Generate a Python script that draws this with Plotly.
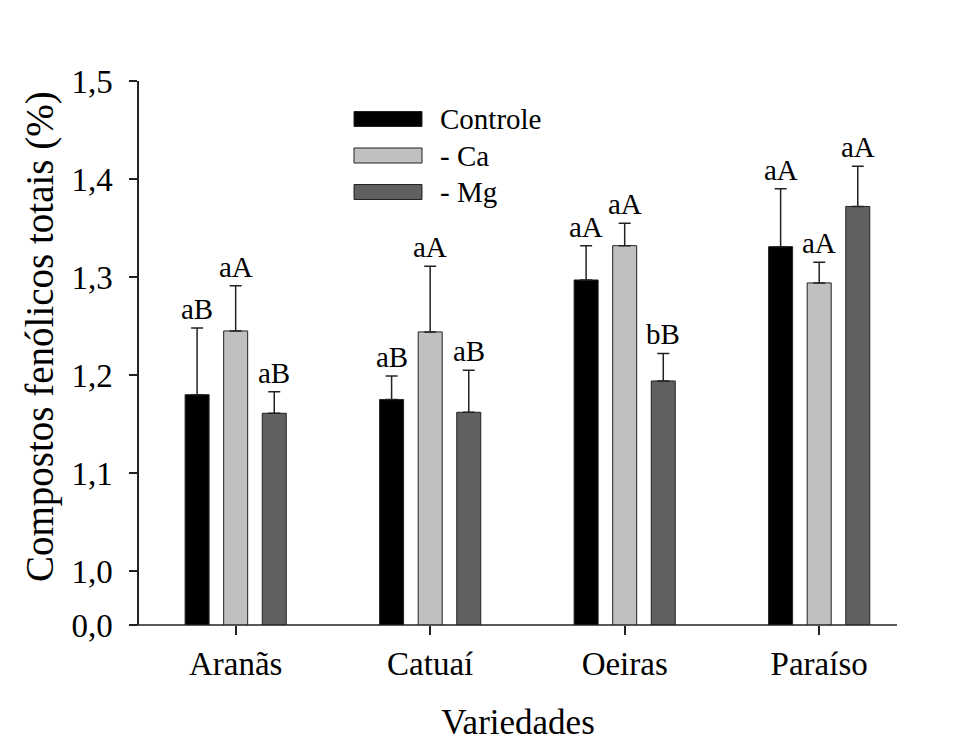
import plotly.graph_objects as go

categories = ["Aranãs", "Catuaí", "Oeiras", "Paraíso"]
series_names = ["Controle", "- Ca", "- Mg"]
controle = [1.180, 1.175, 1.297, 1.331]
controle_err = [0.068, 0.024, 0.035, 0.059]
ca = [1.245, 1.244, 1.332, 1.294]
ca_err = [0.046, 0.067, 0.023, 0.021]
mg = [1.161, 1.162, 1.194, 1.372]
mg_err = [0.022, 0.043, 0.028, 0.041]
controle_lbl = ["aB", "aB", "aA", "aA"]
ca_lbl = ["aA", "aA", "aA", "aA"]
mg_lbl = ["aB", "aB", "bB", "aA"]
ytick_vals = [0.945, 1.0, 1.1, 1.2, 1.3, 1.4, 1.5]
ytick_text = ["0,0", "1,0", "1,1", "1,2", "1,3", "1,4", "1,5"]

colors = ["#000000", "#c0c0c0", "#606060"]
values = [controle, ca, mg]
errors = [controle_err, ca_err, mg_err]
labels = [controle_lbl, ca_lbl, mg_lbl]

FONT = "Liberation Serif"
BARGAP = 0.405
BARGROUPGAP = 0.378
slot = (1 - BARGAP) / 3

fig = go.Figure()
for name, vals, errs, col in zip(series_names, values, errors, colors):
    fig.add_trace(go.Bar(
        x=categories, y=vals, name=name,
        marker=dict(color=col, line=dict(color="#222222", width=1)),
        error_y=dict(type="data", array=errs, symmetric=False,
                     arrayminus=[0] * len(errs),
                     color="#222222", thickness=1.5, width=6),
        showlegend=False,
    ))

annotations = []
for k, (vals, errs, lbls) in enumerate(zip(values, errors, labels)):
    off = (k - 1) * slot
    for i, (v, e, t) in enumerate(zip(vals, errs, lbls)):
        annotations.append(dict(
            x=i + off, y=v + e, xref="x", yref="y", text=t,
            showarrow=False, yanchor="bottom", yshift=1,
            font=dict(family=FONT, size=29, color="black"),
        ))

W, H = 960, 747
ml, mr, mt, mb = 139, 63, 81, 122
pw, ph = W - ml - mr, H - mt - mb

def px2paper_x(px):
    return (px - ml) / pw

def px2paper_y(py):
    return 1 - (py - mt) / ph

# manual legend
leg_x0, leg_x1 = 354, 422
leg_rows = [119, 155.5, 192]
shapes = []
for name, col, yc in zip(series_names, colors, leg_rows):
    shapes.append(dict(type="rect", xref="paper", yref="paper",
                       x0=px2paper_x(leg_x0), x1=px2paper_x(leg_x1),
                       y0=px2paper_y(yc + 7.5), y1=px2paper_y(yc - 7.5),
                       fillcolor=col, line=dict(color="#222222", width=1)))
    annotations.append(dict(x=px2paper_x(438), y=px2paper_y(yc), xref="paper", yref="paper",
                            text=name, showarrow=False, xanchor="left", yanchor="middle",
                            font=dict(family=FONT, size=29, color="black")))

# y-axis title as annotation
annotations.append(dict(x=px2paper_x(40), y=px2paper_y(337), xref="paper", yref="paper",
                        text="Compostos fenólicos totais (%)", textangle=-90,
                        showarrow=False, xanchor="center", yanchor="middle",
                        font=dict(family=FONT, size=39, color="black")))

# bottom axis line extending left to the 0,0 tick
shapes.append(dict(type="line", xref="paper", yref="paper",
                   x0=px2paper_x(131), x1=1, y0=0, y1=0,
                   line=dict(color="#222222", width=1.5)))

fig.update_layout(
    width=W, height=H,
    margin=dict(l=ml, r=mr, t=mt, b=mb),
    paper_bgcolor="white", plot_bgcolor="white",
    barmode="group", bargap=BARGAP, bargroupgap=BARGROUPGAP,
    font=dict(family=FONT, size=32, color="black"),
    annotations=annotations, shapes=shapes,
    xaxis=dict(
        range=[-0.497, 3.40], showline=False, ticks="outside", ticklen=9,
        tickcolor="#222222", tickwidth=1.5, showgrid=False,
        tickfont=dict(family=FONT, size=33, color="black"),
        title=dict(text="Variedades", font=dict(family=FONT, size=35, color="black"), standoff=28),
    ),
    yaxis=dict(
        range=[0.945, 1.5], showline=True, linecolor="#222222", linewidth=1.5,
        ticks="outside", ticklen=8, tickcolor="#222222", tickwidth=1.5,
        tickvals=ytick_vals, ticktext=ytick_text, showgrid=False, zeroline=False,
        tickfont=dict(family=FONT, size=33, color="black"),
        ticklabelstandoff=10,
    ),
)

fig.write_html("out.html")
